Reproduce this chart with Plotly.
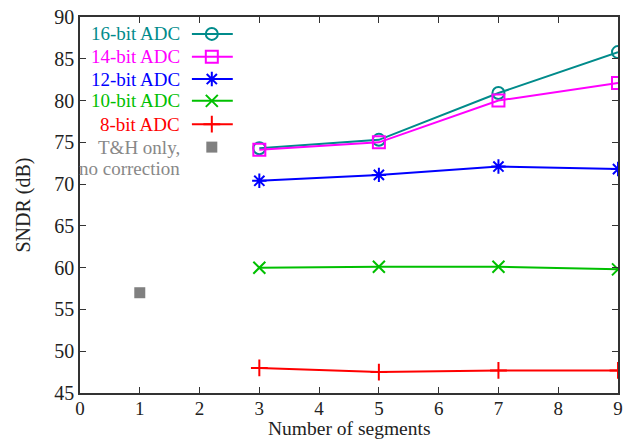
import plotly.graph_objects as go

segments = [3, 5, 7, 9]
adc16 = [74.3, 75.3, 80.9, 85.8]
adc14 = [74.1, 75.0, 80.0, 82.1]
adc12 = [70.4, 71.1, 72.1, 71.8]
adc10 = [60.0, 60.1, 60.1, 59.8]
adc8 = [48.0, 47.5, 47.7, 47.7]
th_x = [1]
th_y = [57.0]

x_ticks = list(range(0, 10))
y_ticks = list(range(45, 95, 5))

FONT = "Liberation Serif, Times New Roman, serif"
FS = 19

series = [
    ("16-bit ADC", adc16, "#008B8B", "circle-open"),
    ("14-bit ADC", adc14, "#FF00FF", "square-open"),
    ("12-bit ADC", adc12, "#0000FF", "asterisk-open"),
    ("10-bit ADC", adc10, "#00C000", "x-thin-open"),
    ("8-bit ADC", adc8, "#FF0000", "cross-thin-open"),
]

fig = go.Figure()
for name, ys, col, sym in series:
    fig.add_trace(go.Scatter(
        x=segments, y=ys, mode="lines+markers", name=name,
        line=dict(color=col, width=2),
        marker=dict(symbol=sym, size=12, color=col, line=dict(color=col, width=2)),
        showlegend=False))
fig.add_trace(go.Scatter(x=th_x, y=th_y, mode="markers", name="T&H only, no correction",
                         marker=dict(symbol="square", size=11, color="#808080"),
                         showlegend=False))

# custom gnuplot-style key on an overlay axis (0..1 units)
rows = [0.955, 0.894, 0.835, 0.777, 0.715]
lx0, lx1, lxm, tx = 0.208, 0.284, 0.245, 0.190
for (name, ys, col, sym), ry in zip(series, rows):
    fig.add_trace(go.Scatter(
        x=[lx0, lxm, lx1], y=[ry, ry, ry], mode="lines", xaxis="x2", yaxis="y2",
        line=dict(color=col, width=2), showlegend=False, hoverinfo="skip"))
    fig.add_trace(go.Scatter(
        x=[lxm], y=[ry], mode="markers", xaxis="x2", yaxis="y2",
        marker=dict(symbol=sym, size=12, color=col, line=dict(color=col, width=2)),
        showlegend=False, hoverinfo="skip"))
    fig.add_annotation(x=tx, y=ry, xref="x2", yref="y2", text=name, showarrow=False,
                       xanchor="right", yanchor="middle",
                       font=dict(family=FONT, size=FS, color=col))
fig.add_trace(go.Scatter(
    x=[lxm], y=[0.654], mode="markers", xaxis="x2", yaxis="y2",
    marker=dict(symbol="square", size=11, color="#808080"),
    showlegend=False, hoverinfo="skip"))
fig.add_annotation(x=tx, y=0.654, xref="x2", yref="y2", text="T&H only,", showarrow=False,
                   xanchor="right", yanchor="middle", font=dict(family=FONT, size=FS, color="#888888"))
fig.add_annotation(x=tx, y=0.598, xref="x2", yref="y2", text="no correction", showarrow=False,
                   xanchor="right", yanchor="middle", font=dict(family=FONT, size=FS, color="#888888"))

# x-axis title as annotation below tick labels
fig.add_annotation(x=0.5, y=0, xref="paper", yref="paper", text="Number of segments",
                   showarrow=False, xanchor="center", yanchor="top", yshift=-24, borderpad=0,
                   font=dict(family=FONT, size=19.5, color="#222222"))

axis_common = dict(showgrid=False, zeroline=False, showline=True, linecolor="#333333",
                   linewidth=1.5, mirror="ticks", ticks="inside", ticklen=6,
                   tickcolor="#333333", tickwidth=1, automargin=False)

fig.update_layout(
    width=630, height=441,
    margin=dict(l=80, r=12, t=17, b=48),
    paper_bgcolor="white", plot_bgcolor="white",
    xaxis=dict(range=[0, 9], tickvals=x_ticks, ticktext=[str(v) for v in x_ticks],
               tickfont=dict(family=FONT, size=19, color="#222222"), ticklabelstandoff=-3,
               **axis_common),
    yaxis=dict(range=[45, 90], tickvals=y_ticks, ticktext=[str(v) for v in y_ticks],
               tickfont=dict(family=FONT, size=20, color="#222222"),
               title=dict(text="SNDR (dB)", font=dict(family=FONT, size=20, color="#222222"), standoff=18),
               **axis_common),
    xaxis2=dict(range=[0, 1], overlaying="x", visible=False, fixedrange=True),
    yaxis2=dict(range=[0, 1], overlaying="y", visible=False, fixedrange=True),
    showlegend=False,
)

fig.write_html("out.html")
